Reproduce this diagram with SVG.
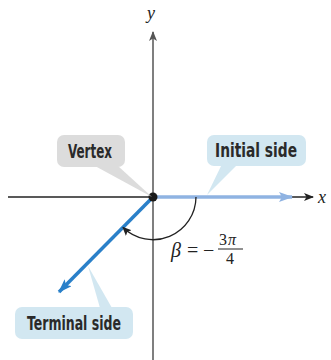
<svg xmlns="http://www.w3.org/2000/svg" width="331" height="360" viewBox="0 0 331 360">
<defs>
<style>
.lbl{font-family:"DejaVu Sans","Liberation Sans",sans-serif;font-weight:bold;font-size:19px;fill:#2a2a2a;font-stretch:condensed}
.math{font-family:"Liberation Serif","DejaVu Serif",serif;font-style:italic;fill:#222}
.mr{font-family:"Liberation Serif","DejaVu Serif",serif;fill:#222}
</style>
<marker id="ak" markerWidth="10" markerHeight="8" refX="9" refY="4" orient="auto" markerUnits="userSpaceOnUse"><path d="M0,0 L10,4 L0,8 L2.5,4 Z" fill="#222"/></marker>
<marker id="ay" markerWidth="10" markerHeight="8" refX="9" refY="4" orient="auto" markerUnits="userSpaceOnUse"><path d="M0,0 L10,4 L0,8 L2.5,4 Z" fill="#555"/></marker>
<marker id="aa" markerWidth="9" markerHeight="8" refX="8" refY="4" orient="auto" markerUnits="userSpaceOnUse"><path d="M0,0 L9,4 L0,8 L2,4 Z" fill="#222"/></marker>
<marker id="ab" markerWidth="14" markerHeight="10" refX="13" refY="5" orient="auto" markerUnits="userSpaceOnUse"><path d="M0,0 L14,5 L0,10 L3,5 Z" fill="#8fb3e2"/></marker>
<marker id="at" markerWidth="14" markerHeight="10" refX="13" refY="5" orient="auto" markerUnits="userSpaceOnUse"><path d="M0,0 L14,5 L0,10 L3,5 Z" fill="#2a80c9"/></marker>
</defs>
<rect width="331" height="360" fill="#fff"/>
<g id="connectors">
<line x1="8" y1="197" x2="285" y2="197" stroke="#222" stroke-width="1.3"/>
<line x1="280" y1="197" x2="313" y2="197" stroke="#222" stroke-width="1.3" marker-end="url(#ak)"/>
<line x1="153" y1="360" x2="153" y2="32" stroke="#555" stroke-width="1.5" marker-end="url(#ay)"/>
<line x1="153" y1="197" x2="292" y2="197" stroke="#8fb3e2" stroke-width="3.5" marker-end="url(#ab)"/>
<line x1="153" y1="197" x2="59" y2="292" stroke="#2a80c9" stroke-width="3.5" marker-end="url(#at)"/>
<path d="M196,197 A43,43 0 0 1 123,227.5" fill="none" stroke="#222" stroke-width="1.3" marker-end="url(#aa)"/>
</g>
<g id="vertex">
<circle cx="153" cy="197" r="4.5" fill="#1a1a1a"/>
</g>
<g id="vertex-label">
<path d="M95,166 L152,197 L118,166 Z" fill="#dcdcdc"/>
<rect x="57" y="135" width="68" height="32" rx="7" fill="#dcdcdc"/>
<text class="lbl" x="68" y="158" textLength="44" lengthAdjust="spacingAndGlyphs">Vertex</text>
</g>
<g id="initial-label">
<path d="M222,164 L207,195 L238,164 Z" fill="#d2e7f1"/>
<rect x="207" y="135" width="99" height="31" rx="7" fill="#d2e7f1"/>
<text class="lbl" x="215" y="157" textLength="82" lengthAdjust="spacingAndGlyphs">Initial side</text>
</g>
<g id="terminal-label">
<path d="M88,266 L100,308 L112,308 Z" fill="#d2e7f1"/>
<rect x="15" y="307" width="118" height="32" rx="7" fill="#d2e7f1"/>
<text class="lbl" x="27" y="330" textLength="94" lengthAdjust="spacingAndGlyphs">Terminal side</text>
</g>
<g id="axis-labels">
<text class="math" x="318" y="203" font-size="18">x</text>
<text class="math" x="147" y="19" font-size="18">y</text>
</g>
<g id="angle-label">
<text class="math" x="171" y="257" font-size="20">β</text>
<text class="mr" x="187" y="257" font-size="20">=</text>
<text class="mr" x="203" y="257" font-size="20">−</text>
<text class="mr" x="219" y="245" font-size="16">3</text>
<text class="math" x="228" y="245" font-size="16">π</text>
<line x1="218" y1="249" x2="243" y2="249" stroke="#222" stroke-width="1"/>
<text class="mr" x="226" y="264" font-size="16">4</text>
</g>
</svg>
